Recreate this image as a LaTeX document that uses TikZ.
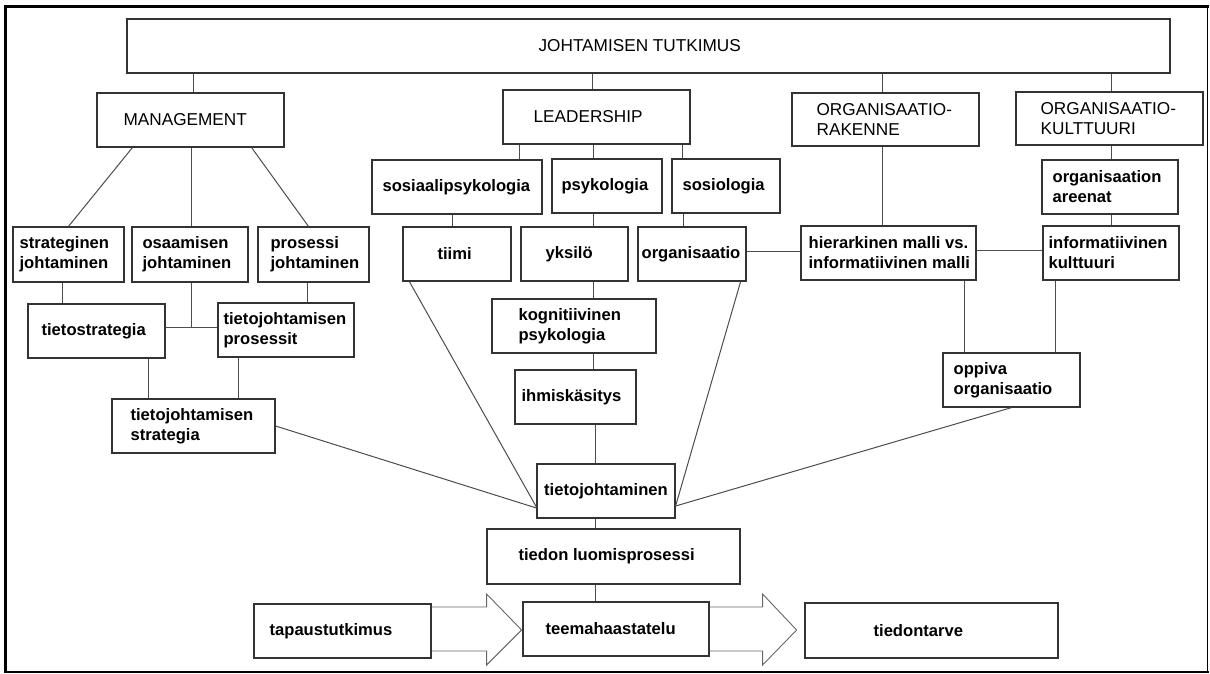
\documentclass[tikz,border=0pt]{standalone}
\usepackage{fontspec}
\setmainfont{Liberation Sans}
\begin{document}
\begin{tikzpicture}[x=1pt,y=-1pt,
  box/.style={draw=black!80, line width=1.2pt, fill=white, inner sep=0pt},
  lc/.style={inner sep=0pt, anchor=west, align=left, font=\bfseries\fontsize{16.6}{20}\selectfont},
  uc/.style={inner sep=0pt, anchor=west, align=left, font=\fontsize{17.2}{20}\selectfont},
  link/.style={draw=black!70, line width=1pt},
  barrow/.style={draw=black!60, line width=0.9pt, line join=miter}]
\useasboundingbox (0,0) rectangle (1210,673);

% outer frame
\draw[line width=3pt] (4,6) -- (1208.5,6);
\draw[line width=3pt] (5.5,4.5) -- (5.5,673);
\draw[line width=1.5pt] (1207.5,5) -- (1207.5,673);
\draw[line width=2pt] (4,672) -- (1208.5,672);

% boxes
\node[box, minimum width=1043pt, minimum height=54pt] (top)   at (648.5,46) {};
\node[box, minimum width=187pt, minimum height=54pt]  (mgmt)  at (190.5,120) {};
\node[box, minimum width=187pt, minimum height=54pt]  (lead)  at (596.5,117) {};
\node[box, minimum width=187pt, minimum height=53pt]  (orgr)  at (885.5,119.5) {};
\node[box, minimum width=187pt, minimum height=53pt]  (orgk)  at (1109.5,118.5) {};
\node[box, minimum width=170pt, minimum height=54pt]  (sosps) at (457,187) {};
\node[box, minimum width=110pt, minimum height=54pt]  (psy)   at (607,186) {};
\node[box, minimum width=108pt, minimum height=54pt]  (sosio) at (726,186) {};
\node[box, minimum width=136pt, minimum height=54pt]  (areen) at (1110,187) {};
\node[box, minimum width=111pt, minimum height=55pt]  (strat) at (68.5,254.5) {};
\node[box, minimum width=116pt, minimum height=55pt]  (osaam) at (190,254.5) {};
\node[box, minimum width=111pt, minimum height=55pt]  (prosj) at (313.5,254.5) {};
\node[box, minimum width=108pt, minimum height=54pt]  (tiimi) at (457,254) {};
\node[box, minimum width=107pt, minimum height=54pt]  (yksi)  at (574.5,254) {};
\node[box, minimum width=108pt, minimum height=54pt]  (org)   at (692,254) {};
\node[box, minimum width=175pt, minimum height=54pt]  (hier)  at (888.5,253) {};
\node[box, minimum width=136pt, minimum height=54pt]  (infk)  at (1111,253) {};
\node[box, minimum width=137pt, minimum height=54pt]  (tstr)  at (96.5,331) {};
\node[box, minimum width=136pt, minimum height=54pt]  (tjp)   at (286,330) {};
\node[box, minimum width=164pt, minimum height=54pt]  (kogn)  at (574,326) {};
\node[box, minimum width=137pt, minimum height=54pt]  (oppi)  at (1011.5,380) {};
\node[box, minimum width=121pt, minimum height=54pt]  (ihmi)  at (575.5,397) {};
\node[box, minimum width=163pt, minimum height=54pt]  (tjs)   at (193.5,426) {};
\node[box, minimum width=138pt, minimum height=54pt]  (tj)    at (606,491) {};
\node[box, minimum width=253pt, minimum height=55pt]  (tlp)   at (613.5,556.5) {};
\node[box, minimum width=177pt, minimum height=54pt]  (tapa)  at (342.5,631) {};
\node[box, minimum width=186pt, minimum height=54pt]  (teema) at (616,629) {};
\node[box, minimum width=253pt, minimum height=55pt]  (tarve) at (931.5,630.5) {};

% texts
\node[uc] (top-t)   at ([xshift=412pt]top.west)  {JOHTAMISEN TUTKIMUS};
\node[uc] (mgmt-t)  at ([xshift=27pt]mgmt.west)  {MANAGEMENT};
\node[uc] (lead-t)  at ([xshift=31pt]lead.west)  {LEADERSHIP};
\node[uc] (orgr-t)  at ([xshift=25pt]orgr.west)  {ORGANISAATIO-\\RAKENNE};
\node[uc] (orgk-t)  at ([xshift=25pt]orgk.west)  {ORGANISAATIO-\\KULTTUURI};
\node[lc] (sosps-t) at ([xshift=11pt]sosps.west) {sosiaalipsykologia};
\node[lc] (psy-t)   at ([xshift=10pt]psy.west)   {psykologia};
\node[lc] (sosio-t) at ([xshift=11pt]sosio.west) {sosiologia};
\node[lc] (areen-t) at ([xshift=11pt]areen.west) {organisaation\\areenat};
\node[lc] (strat-t) at ([xshift=7pt]strat.west)  {strateginen\\johtaminen};
\node[lc] (osaam-t) at ([xshift=11pt]osaam.west) {osaamisen\\johtaminen};
\node[lc] (prosj-t) at ([xshift=13pt]prosj.west) {prosessi\\johtaminen};
\node[lc] (tiimi-t) at ([xshift=35pt]tiimi.west) {tiimi};
\node[lc] (yksi-t)  at ([xshift=25pt]yksi.west)  {yksilö};
\node[lc] (org-t)   at ([xshift=4pt]org.west)    {organisaatio};
\node[lc] (hier-t)  at ([xshift=8pt]hier.west)   {hierarkinen malli vs.\\informatiivinen malli};
\node[lc] (infk-t)  at ([xshift=6pt]infk.west)   {informatiivinen\\kulttuuri};
\node[lc] (tstr-t)  at ([xshift=14pt]tstr.west)  {tietostrategia};
\node[lc] (tjp-t)   at ([xshift=6pt]tjp.west)    {tietojohtamisen\\prosessit};
\node[lc] (kogn-t)  at ([xshift=27pt]kogn.west)  {kognitiivinen\\psykologia};
\node[lc] (oppi-t)  at ([xshift=11pt]oppi.west)  {oppiva\\organisaatio};
\node[lc] (ihmi-t)  at ([xshift=7pt]ihmi.west)   {ihmiskäsitys};
\node[lc] (tjs-t)   at ([xshift=19pt]tjs.west)   {tietojohtamisen\\strategia};
\node[lc, anchor=center] (tj-t) at (tj.center)   {tietojohtaminen};
\node[lc] (tlp-t)   at ([xshift=32pt]tlp.west)   {tiedon luomisprosessi};
\node[lc] (tapa-t)  at ([xshift=16pt]tapa.west)  {tapaustutkimus};
\node[lc] (teema-t) at ([xshift=23pt]teema.west) {teemahaastatelu};
\node[lc] (tarve-t) at ([xshift=69pt]tarve.west) {tiedontarve};

% columns of the vertical connectors
\coordinate (cMg) at (193,0);
\coordinate (cLe) at (592,0);
\coordinate (cOr) at (882,0);
\coordinate (cOk) at (1111,0);
\coordinate (cOs) at (191,0);
\coordinate (cSt) at (62,0);
\coordinate (cPr) at (307,0);
\coordinate (cTs) at (148,0);
\coordinate (cTp) at (238,0);
\coordinate (cL1) at (519,0);
\coordinate (cL2) at (593,0);
\coordinate (cL3) at (682,0);
\coordinate (cSp) at (452,0);
\coordinate (cSo) at (683,0);
\coordinate (cSpine) at (595,0);
\coordinate (cHo) at (964,0);
\coordinate (cIo) at (1055,0);
\coordinate (rOs) at (0,327);
\coordinate (rOh) at (0,251);
\coordinate (rHi) at (0,250);

% top level
\draw[link] (cMg |- top.south) -- (cMg |- mgmt.north);
\draw[link] (cLe |- top.south) -- (cLe |- lead.north);
\draw[link] (cOr |- top.south) -- (cOr |- orgr.north);
\draw[link] (cOk |- top.south) -- (cOk |- orgk.north);

% management branch
\draw[link] ([xshift=36pt]mgmt.south west) -- (strat.north);
\draw[link] (cOs |- mgmt.south) -- (cOs |- osaam.north);
\draw[link] ([xshift=-33pt]mgmt.south east) -- ([xshift=-5pt]prosj.north);
\draw[link] (cSt |- strat.south) -- (cSt |- tstr.north);
\draw[link] (cOs |- osaam.south) -- (cOs |- rOs);
\draw[link] (tstr.east |- rOs) -- (tjp.west |- rOs);
\draw[link] (cPr |- prosj.south) -- (cPr |- tjp.north);
\draw[link] (cTs |- tstr.south) -- (cTs |- tjs.north);
\draw[link] (cTp |- tjp.south) -- (cTp |- tjs.north);

% leadership branch
\draw[link] (cL1 |- lead.south) -- (cL1 |- sosps.north);
\draw[link] (cL2 |- lead.south) -- (cL2 |- psy.north);
\draw[link] (cL3 |- lead.south) -- (cL3 |- sosio.north);
\draw[link] (cSp |- sosps.south) -- (cSp |- tiimi.north);
\draw[link] (cL2 |- psy.south) -- (cL2 |- yksi.north);
\draw[link] (cSo |- sosio.south) -- (cSo |- org.north);
\draw[link] (cL2 |- yksi.south) -- (cL2 |- kogn.north);
\draw[link] (cL2 |- kogn.south) -- (cL2 |- ihmi.north);
\draw[link] (cSpine |- ihmi.south) -- (cSpine |- tj.north);
\draw[link] (cSpine |- tj.south) -- (cSpine |- tlp.north);
\draw[link] (cSpine |- tlp.south) -- (cSpine |- teema.north);

% organisation branches
\draw[link] (org.east |- rOh) -- (hier.west |- rOh);
\draw[link] (cOr |- orgr.south) -- (cOr |- hier.north);
\draw[link] (cOk |- orgk.south) -- (cOk |- areen.north);
\draw[link] (cOk |- areen.south) -- (cOk |- infk.north);
\draw[link] (hier.east |- rHi) -- (infk.west |- rHi);
\draw[link] (cHo |- hier.south) -- (cHo |- oppi.north);
\draw[link] (cIo |- infk.south) -- (cIo |- oppi.north);

% lines converging on tietojohtaminen
\draw[link] (tjs.east) -- ([yshift=-17pt]tj.west);
\draw[link] ([xshift=7pt]tiimi.south west) -- ([yshift=-16pt]tj.west);
\draw[link] ([xshift=-6pt]org.south east) -- ([yshift=-15pt]tj.east);
\draw[link] (oppi.south) -- ([yshift=-15pt]tj.east);

% block arrows of the bottom row
\draw[barrow] ([yshift=24pt]tapa.east) -- ++(55,0) -- ++(0,-13) -- ++(35,36)
  -- ++(-35,35) -- ++(0,-14) -- ++(-55,0);
\draw[barrow] ([yshift=22pt]teema.east) -- ++(53,0) -- ++(0,-13) -- ++(34,36)
  -- ++(-34,35) -- ++(0,-14) -- ++(-53,0);
\end{tikzpicture}
\end{document}
